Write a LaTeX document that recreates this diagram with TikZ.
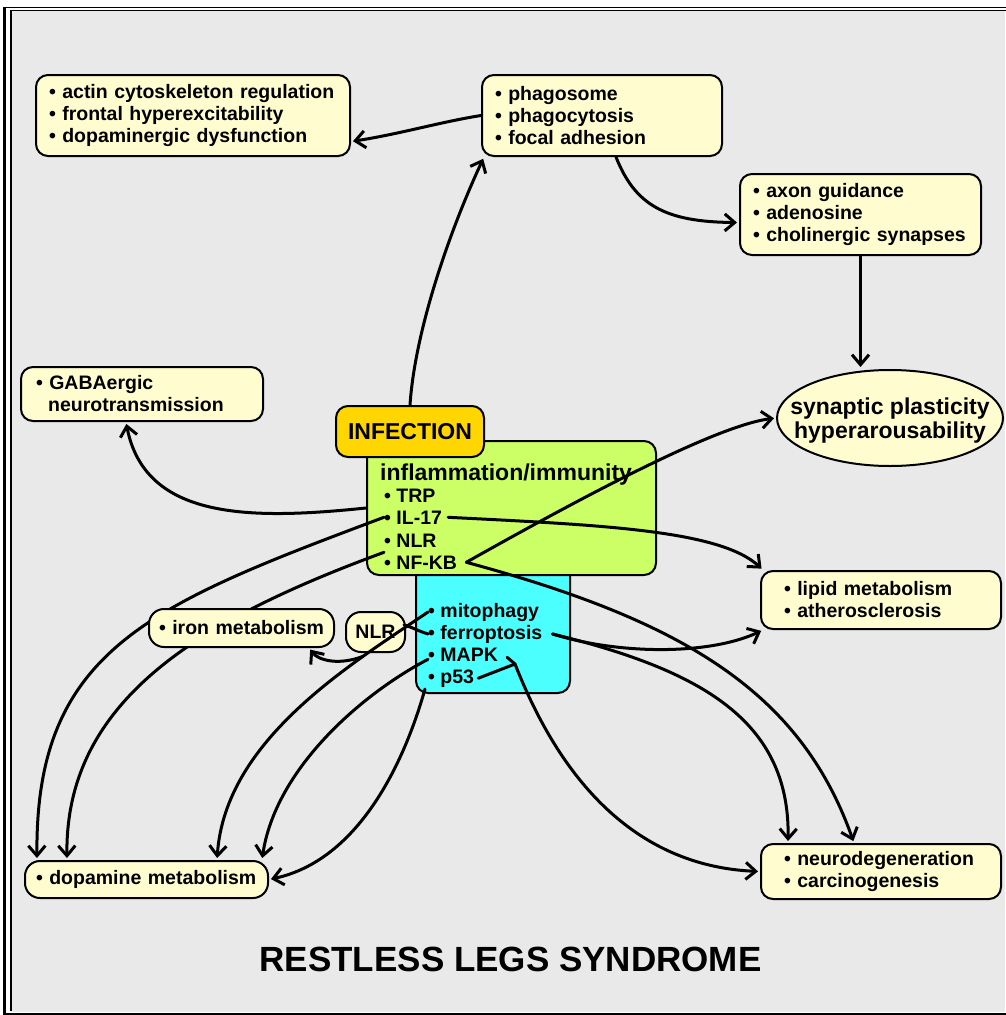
\documentclass[tikz,border=0pt]{standalone}
\usepackage{fontspec}
\setmainfont{Liberation Sans}
\usetikzlibrary{arrows.meta,shapes.geometric}
\definecolor{bggray}{RGB}{233,233,233}
\definecolor{cream}{RGB}{255,253,208}
\definecolor{limeg}{RGB}{204,255,102}
\definecolor{cyanb}{RGB}{76,255,255}
\definecolor{goldb}{RGB}{255,214,0}
\tikzset{
  txt/.style={font=\fontsize{19.5}{22}\selectfont\bfseries},
  bigtxt/.style={font=\fontsize{23}{24}\selectfont\bfseries},
  cbox/.style={txt, draw, line width=2pt, fill=cream, rounded corners=12pt, align=left, inner ysep=0pt, anchor=north west},
  pill/.style={cbox, rounded corners=15pt},
  line/.style={txt, anchor=base west, inner sep=0pt},
  conn/.style={line width=3pt, line cap=round},
  arr/.style={conn, -{Straight Barb[length=10pt,width=17pt]}, shorten >=2pt},
}
\begin{document}
\begin{tikzpicture}[x=1pt,y=-1pt]
\useasboundingbox (0,0) rectangle (1005,1015);
\fill[white] (0,0) rectangle (1005,1015);
\fill[bggray] (11,11) rectangle (1005,1012);
% frame
\draw[line width=2.5pt] (4.5,1016) -- (4.5,6.8);
\draw[line width=1.6pt] (3.5,7.5) -- (1010,7.5);
\draw[line width=1.8pt] (11,1011) -- (11,10.5) -- (1010,10.5);
\draw[line width=2pt] (3,1014) -- (1010,1014);

% cream boxes
\node[cbox, text width=288pt, inner xsep=13pt, minimum height=81pt] (actin) at (35,74)
  {\textbullet{} actin cytoskeleton regulation\\\textbullet{} frontal hyperexcitability\\\textbullet{} dopaminergic dysfunction};
\node[cbox, text width=214pt, inner xsep=13pt, minimum height=81pt] (phago) at (481,74)
  {\textbullet{} phagosome\\\textbullet{} phagocytosis\\\textbullet{} focal adhesion};
\node[cbox, text width=215pt, inner xsep=13pt, minimum height=81pt] (axon) at (739,173)
  {\textbullet{} axon guidance\\\textbullet{} adenosine\\\mbox{\textbullet{} cholinergic synapses}};
\node[cbox, text width=212pt, inner xsep=15pt, minimum height=54pt] (gaba) at (20,366)
  {\textbullet{} GABAergic\\\hspace*{12.2pt}neurotransmission};
\node[cbox, text width=194pt, inner xsep=23pt, minimum height=58pt] (lipid) at (760,570)
  {\textbullet{} lipid metabolism\\\textbullet{} atherosclerosis};
\node[cbox, text width=194pt, inner xsep=23pt, minimum height=55pt] (neuro) at (760,843)
  {\mbox{\textbullet{} neurodegeneration}\\\textbullet{} carcinogenesis};
\node[pill, text width=221pt, inner xsep=11pt, minimum height=37pt] (dop) at (24,860)
  {\mbox{\textbullet{} dopamine metabolism}};
\node[txt, draw, line width=2pt, fill=cream, rounded corners=15pt, minimum width=59pt, minimum height=40pt, inner sep=0pt] (nlr) at (375.5,632) {NLR};

% ellipse
\node[draw, ellipse, line width=2pt, fill=cream, minimum width=226pt, minimum height=96pt, inner sep=0pt] (syn) at (890,418) {};
\node[bigtxt, align=center, inner sep=0pt] (syntxt) at ([yshift=-3pt]syn.center) {synaptic plasticity\\hyperarousability};

% central boxes
\node[draw, line width=2pt, fill=cyanb, rounded corners=12pt, minimum width=154pt, minimum height=152pt, anchor=north west, inner sep=0pt] (cyan) at (415,540) {};
\node[draw, line width=2pt, fill=limeg, rounded corners=12pt, minimum width=289pt, minimum height=134pt, anchor=north west, inner sep=0pt] (green) at (366,440) {};
\node[bigtxt, draw, line width=2pt, fill=goldb, rounded corners=12pt, minimum width=148pt, minimum height=51pt, anchor=north west, inner sep=0pt] (inf) at (335,405) {INFECTION};

\node[bigtxt, anchor=base west, inner sep=0pt] (infl) at (380,480) {inflammation/immunity};
\node[line] (trp) at (384,502) {\textbullet{} TRP};
\node[line] (il) at (384,524) {\textbullet{} IL-17};
\node[line] (nlrg) at (384,547) {\textbullet{} NLR};
\node[line] (nfkb) at (384,569) {\textbullet{} NF-KB};
\node[line] (mito) at (428,617) {\textbullet{} mitophagy};
\node[line] (ferro) at (428,639) {\textbullet{} ferroptosis};
\node[line] (mapk) at (428,661) {\textbullet{} MAPK};
\node[line] (p53) at (428,683) {\textbullet{} p53};

% title
\node[font=\fontsize{35}{42}\selectfont\bfseries, anchor=base, inner sep=0pt] (title) at (510.5,971) {RESTLESS LEGS SYNDROME};

% connectors
\coordinate (vx) at ([xshift=9pt]nfkb.east);
\coordinate (pk) at (515,664);
\draw[arr] (phago.west) .. controls (440,122) and (400,134) .. ([yshift=-26pt]actin.east);
\draw[arr] (inf.north) .. controls (415,330) and (450,230) .. ([xshift=3pt]phago.south west);
\draw[arr] ([xshift=14pt]phago.south) .. controls (635,205) and (665,222) .. ([yshift=-8pt]axon.west);
\draw[arr] (axon.south) -- (axon.south |- syn.north);
\draw[arr] (vx) .. controls (600,487) and (720,425) .. (syn.west);
\draw[arr] (vx) .. controls (680,620) and (800,690) .. ([xshift=-27pt]neuro.north);
\draw[arr] ([xshift=10pt]ferro.east) .. controls (700,670) and (790,720) .. ([xshift=-93pt]neuro.north);
\draw[arr] ([xshift=10pt]ferro.east) .. controls (620,655) and (710,655) .. ([xshift=3pt]lipid.south west);
\draw[arr] ([xshift=6pt]il.east) .. controls (600,525) and (720,530) .. ([xshift=3pt]lipid.north west);
\draw[arr] (green.west) .. controls (250,520) and (145,520) .. ([xshift=-16pt]gaba.south);
\draw[arr] (il.west) .. controls (150,605) and (35,650) .. ([xshift=13pt]dop.north west);
\draw[arr] ([yshift=10pt]nfkb.west) .. controls (200,620) and (65,700) .. ([xshift=43pt]dop.north west);
\draw[arr] (mito.west) .. controls (350,665) and (225,740) .. ([xshift=193pt]dop.north west) coordinate[pos=0.25] (mbr);
\draw[conn] ([xshift=-2pt,yshift=7pt]nlr.east) .. controls (412,627) and (418,631) .. (ferro.west);
\draw[arr] ([yshift=-5pt]mapk.west) .. controls (360,695) and (275,770) .. ([xshift=238pt]dop.north west);
\draw[arr] ([xshift=10pt,yshift=5pt]cyan.south west) .. controls (405,760) and (360,860) .. (dop.east);
\draw[conn] ([xshift=9pt,yshift=-3pt]mapk.east) -- (pk);
\draw[conn] ([xshift=4pt]p53.east) -- (pk);
\draw[arr] (pk) .. controls (545,740) and (610,865) .. (neuro.west);

% iron box on top of the lines passing behind it
\node[pill, text width=165pt, inner xsep=10pt, minimum height=38pt] (iron) at (148,608)
  {\mbox{\textbullet{} iron metabolism}};
\draw[arr] (mbr) .. controls (338,666) and (318,660) .. ([xshift=-26pt]iron.south east);
\end{tikzpicture}
\end{document}
